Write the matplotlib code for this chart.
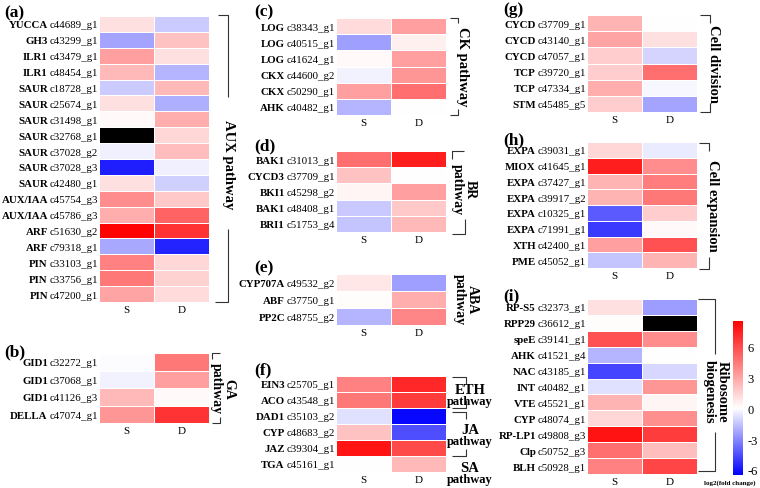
import numpy as np
import matplotlib
matplotlib.use("Agg")
import matplotlib.pyplot as plt
from matplotlib.colors import LinearSegmentedColormap, Normalize
from matplotlib.transforms import blended_transform_factory, IdentityTransform

plt.rcParams['font.family'] = ['Liberation Serif', 'DejaVu Serif']

W, H = 760, 489
nan = np.nan

# (a) AUX pathway
aux_genes = ["YUCCA", "GH3", "ILR1", "ILR1", "SAUR", "SAUR", "SAUR", "SAUR", "SAUR",
             "SAUR", "SAUR", "AUX/IAA", "AUX/IAA", "ARF", "ARF", "PIN", "PIN", "PIN"]
aux_ids = ["c44689_g1", "c43299_g1", "c43479_g1", "c48454_g1", "c18728_g1", "c25674_g1",
           "c31498_g1", "c32768_g1", "c37028_g2", "c37028_g3", "c42480_g1", "c45754_g3",
           "c45786_g3", "c51630_g2", "c79318_g1", "c33103_g1", "c33756_g1", "c47200_g1"]
aux_S = [1.0, -2.3, 3.2, 2.3, -1.3, 1.0, 0.2, nan, -0.4, -5.7, 1.0, 3.8, 2.7, 8.4, -2.2, 4.2, 4.5, 3.0]
aux_D = [-1.3, 2.0, 1.0, -1.9, 2.3, -2.0, 2.7, 1.3, 2.2, -0.4, -1.2, 1.8, 5.2, 6.8, -5.6, 1.3, 1.5, 1.2]

# (b) GA pathway
ga_genes = ["GID1", "GID1", "GID1", "DELLA"]
ga_ids = ["c32272_g1", "c37068_g1", "c41126_g3", "c47074_g1"]
ga_S = [-0.1, -0.3, 2.3, 3.5]
ga_D = [4.5, 3.2, 0.2, 6.8]

# (c) CK pathway
ck_genes = ["LOG", "LOG", "LOG", "CKX", "CKX", "AHK"]
ck_ids = ["c38343_g1", "c40515_g1", "c41624_g1", "c44600_g2", "c50290_g1", "c40482_g1"]
ck_S = [1.2, -2.4, 0.2, -0.3, 3.2, -1.9]
ck_D = [3.2, 0.5, 3.2, 3.5, 4.8, 0.0]

# (d) BR pathway
br_genes = ["BAK1", "CYCD3", "BKI1", "BAK1", "BRI1"]
br_ids = ["c31013_g1", "c37709_g1", "c45298_g2", "c48408_g1", "c51753_g4"]
br_S = [4.8, 2.0, 0.3, -1.4, -1.5]
br_D = [7.5, 0.0, 3.2, 1.8, 2.3]

# (e) ABA pathway
aba_genes = ["CYP707A", "ABF", "PP2C"]
aba_ids = ["c49532_g2", "c37750_g1", "c48755_g2"]
aba_S = [0.8, 0.1, -1.9]
aba_D = [-2.4, 2.7, 4.0]

# (f) ETH / JA / SA pathway
hor_genes = ["EIN3", "ACO", "DAD1", "CYP", "JAZ", "TGA"]
hor_ids = ["c25705_g1", "c43548_g1", "c35103_g2", "c48683_g2", "c39304_g1", "c45161_g1"]
hor_S = [4.2, 4.5, -0.8, 2.0, 7.8, 0.05]
hor_D = [7.2, 6.5, -6.3, -4.5, 6.0, 2.3]

# (g) Cell division
div_genes = ["CYCD", "CYCD", "CYCD", "TCP", "TCP", "STM"]
div_ids = ["c37709_g1", "c43140_g1", "c47057_g1", "c39720_g1", "c47334_g1", "c45485_g5"]
div_S = [2.5, 3.0, 1.7, 1.7, 2.7, 1.7]
div_D = [0.0, 1.0, -1.1, 4.8, -0.2, -2.3]

# (h) Cell expansion
exp_genes = ["EXPA", "MIOX", "EXPA", "EXPA", "EXPA", "EXPA", "XTH", "PME"]
exp_ids = ["c39031_g1", "c41645_g1", "c37427_g1", "c39917_g2", "c10325_g1", "c71991_g1",
           "c42400_g1", "c45052_g1"]
exp_S = [1.3, 7.5, 2.5, 2.5, -4.2, -5.0, 3.2, -1.5]
exp_D = [-0.5, 3.8, 4.3, 4.5, 1.7, 0.2, 5.8, 2.5]

# (i) Ribosome biogenesis
rib_genes = ["RP-S5", "RPP29", "speE", "AHK", "NAC", "INT", "VTE", "CYP", "RP-LP1", "Clp", "BLH"]
rib_ids = ["c32373_g1", "c36612_g1", "c39141_g1", "c41521_g4", "c43185_g1", "c40482_g1",
           "c45521_g1", "c48074_g1", "c49808_g3", "c50752_g3", "c50928_g1"]
rib_S = [1.0, 0.1, 5.8, -1.9, -4.7, -0.8, 2.5, 1.3, 7.8, 4.8, 4.2]
rib_D = [-2.5, nan, 3.8, 0.0, -1.0, 3.5, 0.3, 3.7, 6.5, 2.2, 6.2]

conditions = ["S", "D"]
cbar_ticks = [-6, -3, 0, 3, 6]
vmin, vmax = -6.5, 8.5

cmap = LinearSegmentedColormap.from_list(
    "bwr_custom", [(0, "#0000ff"), (-vmin / (vmax - vmin), "#ffffff"), (1, "#ff0000")])
cmap.set_bad("black")
norm = Normalize(vmin=vmin, vmax=vmax)

fig = plt.figure(figsize=(W / 100, H / 100), dpi=100)

# panel placement in pixels: letter, genes, ids, S, D, x0, y0, x1, y1
panels = [
    ("(a)", aux_genes, aux_ids, aux_S, aux_D, 99, 17, 209, 303),
    ("(b)", ga_genes, ga_ids, ga_S, ga_D, 99, 354, 209, 424),
    ("(c)", ck_genes, ck_ids, ck_S, ck_D, 336, 19, 446, 116),
    ("(d)", br_genes, br_ids, br_S, br_D, 336, 152, 446, 233),
    ("(e)", aba_genes, aba_ids, aba_S, aba_D, 336, 275, 446, 326),
    ("(f)", hor_genes, hor_ids, hor_S, hor_D, 336, 377, 446, 473),
    ("(g)", div_genes, div_ids, div_S, div_D, 587, 16, 697, 113),
    ("(h)", exp_genes, exp_ids, exp_S, exp_D, 587, 143, 697, 269),
    ("(i)", rib_genes, rib_ids, rib_S, rib_D, 587, 300, 697, 475),
]

id_texts = []
for letter, genes, ids, S, D, x0, y0, x1, y1 in panels:
    ax = fig.add_axes([x0 / W, 1 - y1 / H, (x1 - x0) / W, (y1 - y0) / H])
    data = np.ma.masked_invalid(np.column_stack([S, D]))
    n = len(genes)
    ax.pcolormesh(np.arange(3), np.arange(n + 1), data, cmap=cmap, norm=norm,
                  edgecolors="white", linewidth=0.6)
    ax.set_xlim(0, 2)
    ax.set_ylim(n, 0)
    for s in ax.spines.values():
        s.set_visible(False)
    ax.set_xticks([0.5, 1.5])
    ax.set_xticklabels(conditions, fontsize=8)
    ax.tick_params(axis="x", length=0, pad=2)
    ax.set_yticks([])
    for i, (g, cid) in enumerate(zip(genes, ids)):
        t = ax.text(-0.02, i + 0.5, cid, ha="right", va="center_baseline", fontsize=7.8)
        id_texts.append((ax, t, g, i + 0.5))

fig.canvas.draw()
renderer = fig.canvas.get_renderer()
for ax, t, g, yv in id_texts:
    bb = t.get_window_extent(renderer)
    tr = blended_transform_factory(IdentityTransform(), ax.transData)
    ax.text(bb.x0 - 1.5, yv, g, ha="right", va="center_baseline", fontsize=7.8,
            fontweight="bold", transform=tr, clip_on=False)

# overlay in pixel coordinates for letters, brackets and pathway names
ov = fig.add_axes([0, 0, 1, 1], facecolor="none")
ov.set_xlim(0, W)
ov.set_ylim(H, 0)
ov.axis("off")

letters = [("(a)", 4, 13), ("(b)", 4, 352), ("(c)", 254, 12), ("(d)", 254, 146),
           ("(e)", 254, 268), ("(f)", 254, 370), ("(g)", 503, 10), ("(h)", 503, 140),
           ("(i)", 503, 296)]
for s, x, y in letters:
    ov.text(x, y, s, fontsize=12.5, fontweight="bold", ha="left", va="center")

lc = "#333333"
def line(pts):
    xs, ys = zip(*pts)
    ov.plot(xs, ys, color=lc, lw=0.8, solid_capstyle="butt")

# (a) AUX
line([(218, 16), (228, 16), (228, 98)])
line([(228, 230), (228, 303), (215, 303)])
ov.text(229, 165, "AUX pathway", rotation=-90, fontsize=10.5, fontweight="bold",
        ha="center", va="center")
# (b) GA
line([(212, 360), (212, 354), (220, 354)])
line([(212, 424), (220, 424), (220, 418)])
ov.text(223, 389, "GA\npathway", rotation=-90, fontsize=10, fontweight="bold",
        ha="center", va="center", linespacing=0.95, multialignment="center")
# (c) CK
line([(450, 19), (458, 19), (458, 24)])
line([(458, 110), (458, 116), (450, 116)])
ov.text(462, 67, "CK pathway", rotation=-90, fontsize=10.5, fontweight="bold",
        ha="center", va="center")
# (d) BR
line([(452, 160), (452, 152), (464, 152)])
line([(452, 235), (465, 235), (465, 220)])
ov.text(464, 190, "BR\npathway", rotation=-90, fontsize=10, fontweight="bold",
        ha="center", va="center", linespacing=0.95, multialignment="center")
# (e) ABA
ov.text(466, 300, "ABA\npathway", rotation=-90, fontsize=10, fontweight="bold",
        ha="center", va="center", linespacing=0.95, multialignment="center")
# (f) ETH / JA / SA
line([(452, 378), (466, 378), (466, 385)])
line([(452, 409), (466, 409), (466, 401)])
line([(452, 413), (466, 413), (466, 420)])
line([(452, 457), (466, 457), (466, 450)])
for name, y in [("ETH", 390), ("JA", 430), ("SA", 468)]:
    ov.text(470, y, name, fontsize=10.5, fontweight="bold", ha="center", va="center")
    ov.text(470, y + 12, "pathway", fontsize=9, fontweight="bold", ha="center", va="center")
# (g) Cell division
line([(700, 16), (710, 16), (710, 24)])
line([(710, 104), (710, 113), (700, 113)])
ov.text(714, 64, "Cell division", rotation=-90, fontsize=10.5, fontweight="bold",
        ha="center", va="center")
# (h) Cell expansion
line([(699, 144), (709, 144), (709, 152)])
line([(709, 258), (709, 270), (699, 270)])
ov.text(713, 206, "Cell expansion", rotation=-90, fontsize=10.5, fontweight="bold",
        ha="center", va="center")
# (i) Ribosome biogenesis
line([(698, 300), (715, 300), (715, 355)])
line([(715, 433), (715, 472), (698, 472)])
ov.text(716, 392, "Ribosome\nbiogenesis", rotation=-90, fontsize=10.5, fontweight="bold",
        ha="center", va="center", linespacing=0.95, multialignment="center")

# colorbar
cax = fig.add_axes([733 / W, 1 - 476 / H, 10 / W, 154 / H])
sm = plt.cm.ScalarMappable(norm=norm, cmap=cmap)
cb = fig.colorbar(sm, cax=cax, ticks=cbar_ticks)
cb.outline.set_visible(False)
cb.ax.tick_params(length=0, labelsize=9, pad=3)
cb.ax.set_yticklabels([str(v) for v in cbar_ticks])
ov.text(730, 483, "log2(fold change)", fontsize=5, fontweight="bold", ha="center", va="center")

fig.savefig("out.png", dpi=100)
